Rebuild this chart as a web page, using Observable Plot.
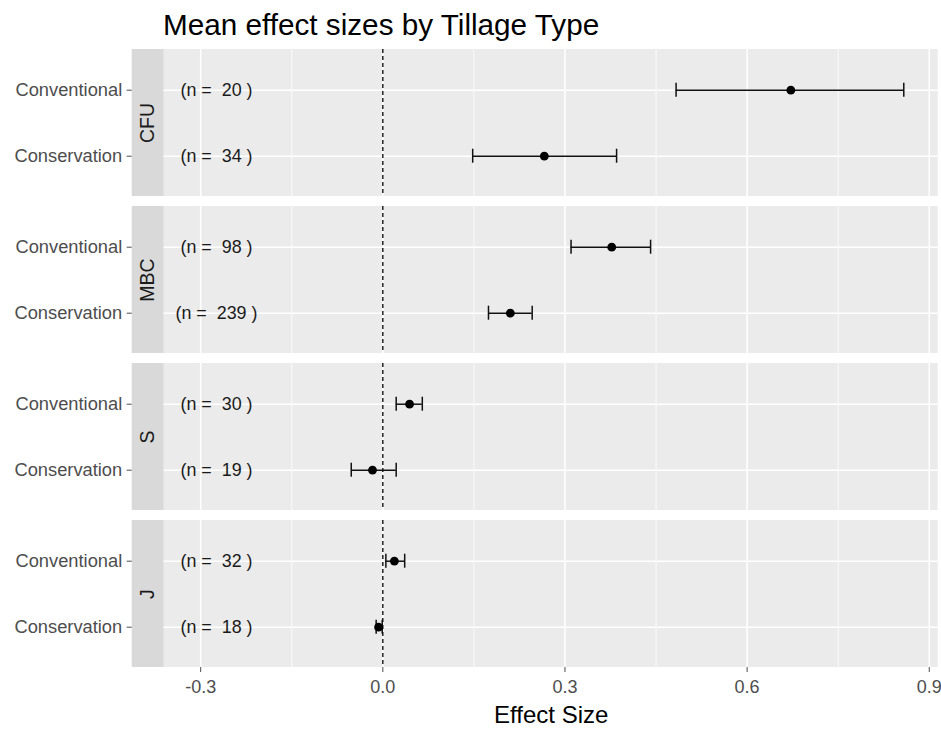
<!DOCTYPE html>
<html><head><meta charset="utf-8">
<script src="https://cdn.jsdelivr.net/npm/d3@7"></script>
<script src="https://cdn.jsdelivr.net/npm/@observablehq/plot@0.6"></script>
<style>
body{margin:0;background:#fff;font-family:"Liberation Sans",Arial,sans-serif;}
#title{height:47px;box-sizing:border-box;padding-left:163px;padding-top:8px;font-size:29.7px;line-height:34px;color:#000;white-space:nowrap;}
#chart svg text{white-space:pre;}
</style></head><body>
<div id="title">Mean effect sizes by Tillage Type</div>
<div id="chart"></div>
<script>
// ---- data ----
const metrics = ["CFU", "MBC", "S", "J"];
const tillage = ["Conventional", "Conservation"];
// order: CFU Conv, CFU Cons, MBC Conv, MBC Cons, S Conv, S Cons, J Conv, J Cons
const means = [0.672, 0.266, 0.377, 0.210, 0.044, -0.017, 0.019, -0.007];
const lower = [0.483, 0.148, 0.310, 0.174, 0.022, -0.052, 0.005, -0.011];
const upper = [0.858, 0.385, 0.441, 0.246, 0.065, 0.022, 0.036, -0.001];
const nCounts = [20, 34, 98, 239, 30, 19, 32, 18];
const xTicks = [-0.3, 0.0, 0.3, 0.6, 0.9];
const xMinor = [-0.15, 0.15, 0.45, 0.75];

// ---- layout constants (data space) ----
const xMin = -0.4128, panelLeft = -0.3601, xMax = 0.9147;
const stripMid = (xMin + panelLeft) / 2;
const nLabelX = -0.274;

const rows = metrics.flatMap((m, i) => tillage.map((t, j) => ({
  metric: m, tillage: t,
  mean: means[i * 2 + j], lo: lower[i * 2 + j], hi: upper[i * 2 + j], n: nCounts[i * 2 + j]
})));

const chart = Plot.plot({
  width: 941,
  height: 682,
  marginTop: 0.3,
  marginBottom: 60,
  marginLeft: 131.7,
  marginRight: 3.3,
  style: {fontFamily: "'Liberation Sans', Arial, sans-serif", background: "white"},
  x: {domain: [xMin, xMax]},
  y: {domain: tillage, type: "band", paddingInner: 0.79, paddingOuter: 0.5},
  fy: {domain: metrics, axis: null, paddingInner: 0.063, paddingOuter: 0},
  marks: [
    Plot.rect(metrics, {fy: d => d, x1: () => panelLeft, x2: () => xMax, fill: "#ebebeb"}),
    Plot.rect(metrics, {fy: d => d, x1: () => xMin, x2: () => panelLeft, fill: "#d9d9d9"}),
    Plot.ruleX(xMinor, {x: d => d, stroke: "white", strokeWidth: 0.8}),
    Plot.ruleY(tillage, {y: d => d, x1: () => panelLeft, x2: () => xMax, stroke: "white", strokeWidth: 1.5}),
    Plot.ruleX(xTicks, {x: d => d, stroke: "white", strokeWidth: 1.5}),
    Plot.ruleX([0], {x: d => d, stroke: "#000", strokeDasharray: "4,3", strokeWidth: 1.3}),
    Plot.ruleY(rows, {fy: "metric", y: "tillage", x1: "lo", x2: "hi", stroke: "#111", strokeWidth: 1.5}),
    Plot.tickX(rows, {fy: "metric", y: "tillage", x: "lo", stroke: "#111", strokeWidth: 1.5}),
    Plot.tickX(rows, {fy: "metric", y: "tillage", x: "hi", stroke: "#111", strokeWidth: 1.5}),
    Plot.dot(rows, {fy: "metric", y: "tillage", x: "mean", r: 4.4, fill: "#000", stroke: "none"}),
    Plot.text(rows, {fy: "metric", y: "tillage", x: () => nLabelX, text: d => `(n =  ${d.n} )`, fontSize: 17.9, fill: "#1a1a1a"}),
    Plot.text(metrics, {fy: d => d, x: () => stripMid, text: d => d, rotate: -90, fontSize: 19.5, fill: "#1a1a1a"}),
    Plot.axisY({tickSize: 5, tickPadding: 5, fontSize: 18.3, color: "#4d4d4d", label: null}),
    Plot.axisX(xTicks, {tickFormat: d => d.toFixed(1), tickSize: 5, tickPadding: 8, fontSize: 18, color: "#4d4d4d", label: null}),
    Plot.text(["Effect Size"], {fy: () => "J", x: () => (panelLeft + xMax) / 2, frameAnchor: "bottom", lineAnchor: "middle", dy: 48, text: d => d, fontSize: 24, fill: "#000"})
  ]
});
document.getElementById("chart").appendChild(chart);
</script></body></html>
